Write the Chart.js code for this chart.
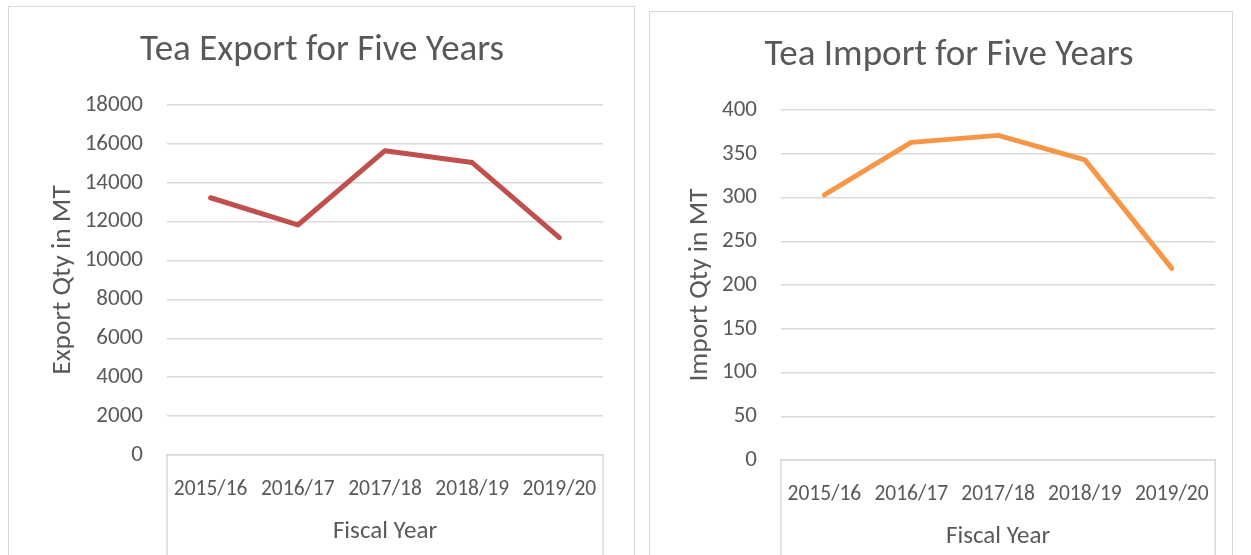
<!DOCTYPE html>
<html>
<head>
<meta charset="utf-8">
<script src="https://cdn.jsdelivr.net/npm/chart.js@4/dist/chart.umd.min.js"></script>
<style>
  html, body { margin: 0; padding: 0; background: #fff; overflow: hidden; width: 1251px; height: 555px; }
  .box { position: absolute; border: 1.5px solid #d9d9d9; border-bottom: none; box-sizing: border-box; }
  #export-box { left: 8px; top: 6px; width: 627px; height: 560px; }
  #import-box { left: 649px; top: 11px; width: 584px; height: 560px; }
  canvas { position: absolute; left: 0; top: 0; }
</style>
</head>
<body>
<div class="box" id="export-box"><canvas id="export-chart"></canvas></div>
<div class="box" id="import-box"><canvas id="import-chart"></canvas></div>
<script>
const fiscalYears = ['2015/16', '2016/17', '2017/18', '2018/19', '2019/20'];
const exportQty = [13230, 11830, 15650, 15040, 11180];
const importQty = [303, 363, 371, 343, 219];

const fontFamily = 'Carlito, Calibri, "Liberation Sans Narrow", "Open Sans", sans-serif';
Chart.defaults.font.family = fontFamily;
Chart.defaults.color = '#595959';
Chart.defaults.plugins.legend.display = false;
Chart.defaults.plugins.tooltip.enabled = false;
Chart.defaults.animation = false;

// light grey lines down the sides of the category axis
const axisBox = {
	id: 'axisBox',
	afterDraw(chart) {
		const ctx = chart.ctx;
		const area = chart.chartArea;
		ctx.save();
		ctx.strokeStyle = '#d9d9d9';
		ctx.lineWidth = 1.5;
		ctx.beginPath();
		ctx.moveTo(area.left, area.bottom);
		ctx.lineTo(area.left, chart.height);
		ctx.moveTo(area.right, area.bottom);
		ctx.lineTo(area.right, chart.height);
		ctx.stroke();
		ctx.restore();
	}
};

function makeChart(id, w, title, yTitle, data, color, yMax, yStep, yWidth, yTitlePad, leftPad, rightPad) {
	const canvas = document.getElementById(id);
	canvas.width = w;
	canvas.height = 549;
	canvas.style.width = w + 'px';
	canvas.style.height = '549px';
	return new Chart(canvas, {
		type: 'line',
		data: {
			labels: fiscalYears,
			datasets: [{
				data: data,
				borderColor: color,
				borderWidth: 5,
				pointRadius: 0,
				tension: 0,
				borderCapStyle: 'round',
				borderJoinStyle: 'round'
			}]
		},
		plugins: [axisBox],
		options: {
			responsive: false,
			layout: { padding: { left: leftPad, right: 0, top: 0, bottom: 0 } },
			plugins: {
				title: {
					display: true,
					text: title,
					color: '#595959',
					font: { size: 37, weight: 'normal' },
					padding: { top: 22, bottom: 31.6 }
				}
			},
			scales: {
				x: {
					offset: true,
					grid: { display: false, drawTicks: false },
					border: { display: true, color: '#d9d9d9', width: 1.5 },
					ticks: { font: { size: 21.5 }, maxRotation: 0, autoSkip: false, padding: 22 },
					title: { display: true, text: 'Fiscal Year', font: { size: 25 }, padding: { top: 0, bottom: 9 } },
					afterFit(scale) { scale.height = 101; }
				},
				y: {
					min: 0,
					max: yMax,
					grid: { color: '#d9d9d9', lineWidth: 1.5, drawTicks: false },
					border: { display: false },
					ticks: { stepSize: yStep, font: { size: 23 }, padding: 24, callback: v => String(v) },
					title: { display: true, text: yTitle, font: { size: 27.5 }, padding: { top: yTitlePad - leftPad, bottom: 0 } },
					afterFit(scale) { scale.width = yWidth - leftPad; }
				},
				// empty right-hand spacer so the title stays centred on the whole box
				spacer: {
					type: 'linear',
					position: 'right',
					display: true,
					grid: { display: false, drawTicks: false },
					border: { display: false },
					ticks: { display: false },
					afterFit(scale) { scale.width = rightPad; }
				}
			}
		}
	});
}

makeChart('export-chart', 626, 'Tea Export for Five Years', 'Export Qty in MT', exportQty, '#C0504D', 18000, 2000, 158, 38, 0, 32);
makeChart('import-chart', 582, 'Tea Import for Five Years', 'Import Qty in MT', importQty, '#F79646', 400, 50, 131, 34, 16, 14);
</script>
</body>
</html>
